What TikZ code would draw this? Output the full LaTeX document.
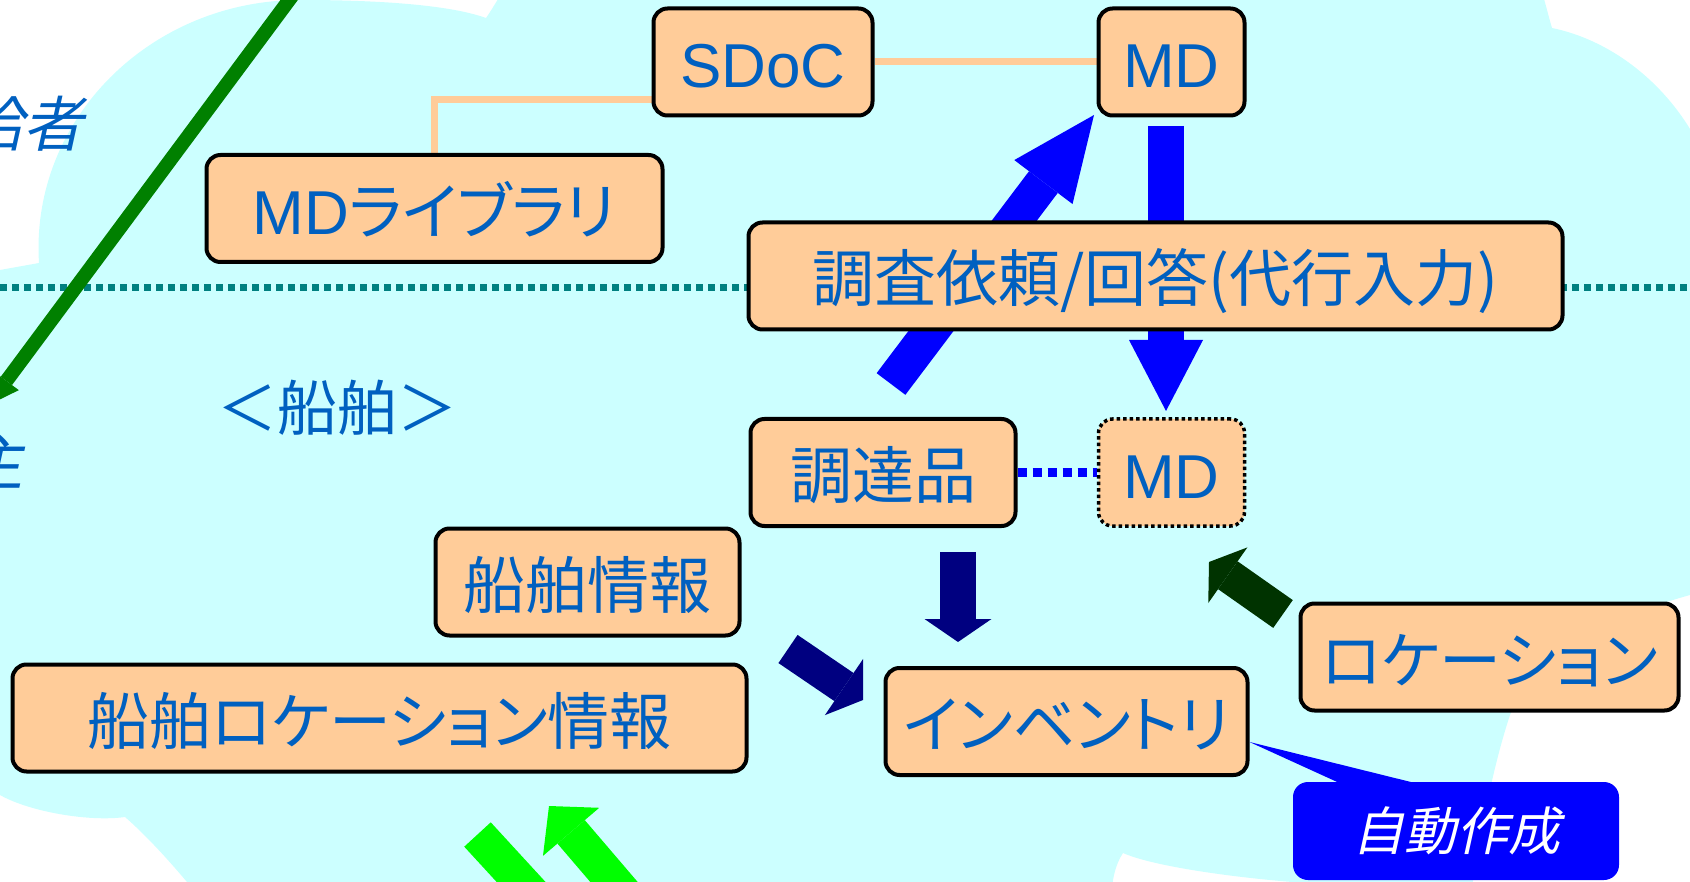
\documentclass[tikz,border=0pt]{standalone}
\usepackage{fontspec}
\setmainfont{Liberation Sans}
\newfontfamily\lat{Liberation Sans}
\newfontfamily\jp[RawFeature=+palt]{Noto Sans CJK JP}
\newfontfamily\jpw{Noto Sans CJK JP}
\newfontfamily\jpit[FakeSlant=0.22]{Noto Sans CJK JP}
\usetikzlibrary{arrows.meta}
\definecolor{cloud}{RGB}{204,255,255}
\definecolor{peach}{RGB}{255,204,153}
\definecolor{ink}{RGB}{0,96,192}
\definecolor{divider}{RGB}{0,128,128}
\definecolor{navy}{RGB}{0,0,128}
\definecolor{pine}{RGB}{0,51,0}
\definecolor{leaf}{RGB}{0,128,0}
\definecolor{brightgreen}{RGB}{0,255,0}
\definecolor{pureblue}{RGB}{0,0,255}
\pgfdeclarelayer{back}
\pgfdeclarelayer{mid}
\pgfsetlayers{back,mid,main}
\tikzset{
  card/.style={draw=black, line width=4pt, fill=peach, rounded corners=14pt,
    minimum height=107pt, inner sep=0pt, text height=58pt, text depth=6pt,
    text=ink, font=\jp\fontsize{62}{62}\selectfont},
  label/.style={text=ink, inner sep=0pt, font=\jpit\fontsize{60}{60}\selectfont},
  blk/.style n args={3}{line width=#1, -{Triangle[length=#2,width=#3,line width=0pt]}},
}
\begin{document}
\begin{tikzpicture}[x=1pt,y=-1pt]
\useasboundingbox (0,0) rectangle (1690,882);
% boxes
\node[card, minimum width=219pt] (sdoc) at (763,62) {\lat SDoC};
\node[card, minimum width=146pt] (mdtop) at (1171.5,62) {\lat MD};
\node[card, minimum width=456pt] (mdlib) at (434.5,208.5) {{\lat MD}ライブラリ};
\node[card, minimum width=814pt] (survey) at (1155.5,276) {調査依頼/回答(代行入力)};
\node[card, minimum width=265pt] (proc) at (883,472.5) {調達品};
\node[card, minimum width=146pt, line width=3.5pt, dash pattern=on 3.5pt off 3pt] (mdsub) at (1171.5,472.5) {\lat MD};
\node[card, minimum width=304pt] (shipinfo) at (587.5,582) {船舶情報};
\node[card, minimum width=734pt] (shiploc) at (379.5,718) {船舶ロケーション情報};
\node[card, minimum width=362pt] (inv) at (1066.5,721.5) {インベントリ};
\node[card, minimum width=378pt] (loc) at (1489.5,657) {ロケーション};
\node[fill=pureblue, rounded corners=15pt, minimum width=326pt, minimum height=98pt,
  text=white, font=\jpit\fontsize{52}{52}\selectfont] (auto) at (1456,831) {自動作成};
\coordinate (ptip) at ([yshift=-20.5pt]inv.east);
\fill[pureblue] (ptip) -- (1346,786) -- (1427,786) -- cycle;
% labels
\node[text=ink, font=\jpw\fontsize{60}{60}\selectfont] (ship) at (337.5,407.5) {＜船舶＞};
\node[label, anchor=east] (supplier) at (84,124) {供給者};
\node[label, anchor=east] (owner) at (24,463) {船主};

\begin{pgfonlayer}{mid}
\draw[peach, line width=7pt] (sdoc.east) -- (mdtop.west);
\draw[peach, line width=7pt] (mdlib.north) |- ([yshift=-37.5pt]sdoc.west);
\draw[pureblue, line width=8pt, dash pattern=on 9pt off 6pt] (proc.east) -- (mdsub.west);
% block arrows
\coordinate (upA) at (891,384);     \coordinate (upB) at (1094,115);
\coordinate (dnA) at (1166,126);    \coordinate (dnB) at (1166,411);
\coordinate (invA) at (958,552);    \coordinate (invB) at (958,642);
\coordinate (infoA) at (788,649);   \coordinate (infoB) at (863,700);
\coordinate (locA) at (1283,614);   \coordinate (locB) at (1209,562);
\coordinate (supA) at (304,-20);    \coordinate (supB) at (-11.5,405);
\coordinate (outA) at (477.5,834.5);\coordinate (outB) at (646,1018);
\coordinate (inA) at (646.5,920);   \coordinate (inB) at (549,806);
\draw[pureblue, blk={36pt}{84pt}{73pt}] (upA) -- (upB);
\draw[pureblue, blk={36pt}{71pt}{74pt}] (dnA) -- (dnB);
\draw[navy, blk={36pt}{23pt}{67pt}] (invA) -- (invB);
\draw[navy, blk={34pt}{23pt}{68pt}] (infoA) -- (infoB);
\draw[pine, blk={34pt}{23pt}{68pt}] (locA) -- (locB);
\draw[leaf, blk={14pt}{30pt}{31pt}] (supA) -- (supB);
\draw[brightgreen, blk={36pt}{34pt}{74pt}] (outA) -- (outB);
\draw[brightgreen, blk={36pt}{34pt}{74pt}] (inA) -- (inB);
\end{pgfonlayer}

\begin{pgfonlayer}{back}
\fill[white] (0,0) rectangle (1690,882);
\fill[cloud] (-20,270) -- (0,270) -- (39,263)
  .. controls (30,120) and (150,0) .. (300,0)
  .. controls (380,0) and (450,5) .. (486,18)
  .. controls (495,5) and (500,-5) .. (510,-20)
  -- (1538,-20)
  .. controls (1545,0) and (1548,15) .. (1552,28)
  .. controls (1610,40) and (1660,80) .. (1690,129)
  -- (1710,129) -- (1710,595) -- (1690,595)
  .. controls (1600,620) and (1530,660) .. (1510,715)
  .. controls (1500,745) and (1485,800) .. (1470,900)
  -- (1300,900) -- (1292,882)
  .. controls (1220,876) and (1150,865) .. (1123,853)
  .. controls (1115,865) and (1112,880) .. (1111,900)
  -- (190,900) -- (187,882)
  .. controls (160,850) and (140,830) .. (125,817)
  .. controls (90,822) and (30,812) .. (0,795)
  -- (-20,795) -- cycle;
\draw[divider, line width=7pt, dash pattern=on 7pt off 5pt] (0,288) -- (1690,288);
\end{pgfonlayer}
\end{tikzpicture}
\end{document}
